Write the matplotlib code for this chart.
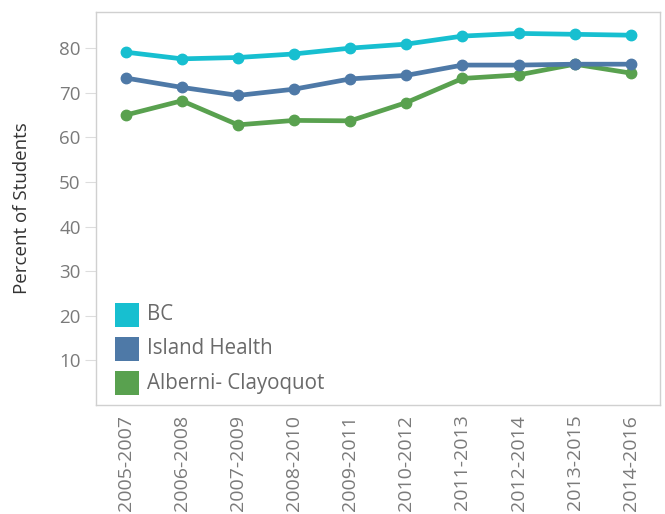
import matplotlib
matplotlib.use("Agg")
import matplotlib.pyplot as plt
from matplotlib.patches import Rectangle

years = ["2005-2007", "2006-2008", "2007-2009", "2008-2010", "2009-2011",
         "2010-2012", "2011-2013", "2012-2014", "2013-2015", "2014-2016"]
bc = [79.1, 77.6, 77.9, 78.7, 80.0, 80.9, 82.7, 83.3, 83.1, 82.9]
island = [73.3, 71.2, 69.4, 70.8, 73.1, 73.9, 76.2, 76.2, 76.4, 76.4]
alberni = [65.0, 68.2, 62.8, 63.8, 63.7, 67.8, 73.2, 74.0, 76.4, 74.4]
series_names = ["BC", "Island Health", "Alberni- Clayoquot"]
yticks = [10, 20, 30, 40, 50, 60, 70, 80]

colors = ["#17bfd0", "#4e79a7", "#59a14f"]
plt.rcParams['font.family'] = ['Open Sans', 'DejaVu Sans']

fig = plt.figure(figsize=(6.65, 5.14), dpi=100)
ax = fig.add_axes([96/665, 1-405/514, (660-96)/665, (405-12)/514])

x = list(range(len(years)))
for vals, c in zip([alberni, island, bc], colors[::-1]):
    ax.plot(x, vals, color=c, lw=3.4, marker='o', markersize=7.5, solid_capstyle='round', zorder=3)

ax.set_xlim(-0.53, 9.52)
ax.set_ylim(0, 88.1)
ax.set_yticks(yticks)
ax.set_yticklabels([str(t) for t in yticks])
ax.set_xticks(x)
ax.set_xticklabels(years, rotation=90, va='top')
ax.tick_params(axis='y', colors='#dddddd', labelcolor='#7a7a7a', labelsize=13.5, length=8, width=0.8, pad=3)
ax.tick_params(axis='x', length=0, labelcolor='#7a7a7a', labelsize=14, pad=7)
for s in ax.spines.values():
    s.set_color('#d0d0d0')
    s.set_linewidth(1.0)
ax.set_ylabel("Percent of Students", fontsize=13.5, color='#333333', labelpad=20)

# legend
rows_y = [315, 349, 383]
for name, c, yy in zip(series_names, colors, rows_y):
    fig.patches.append(Rectangle((115/665, 1-(yy+12)/514), 24/665, 24/514,
                                 transform=fig.transFigure, facecolor=c, edgecolor='none'))
    fig.text(147/665, 1-yy/514, name, fontsize=14.8, color='#6a6a6a', va='center', ha='left')

fig.savefig("out.png", dpi=100)
